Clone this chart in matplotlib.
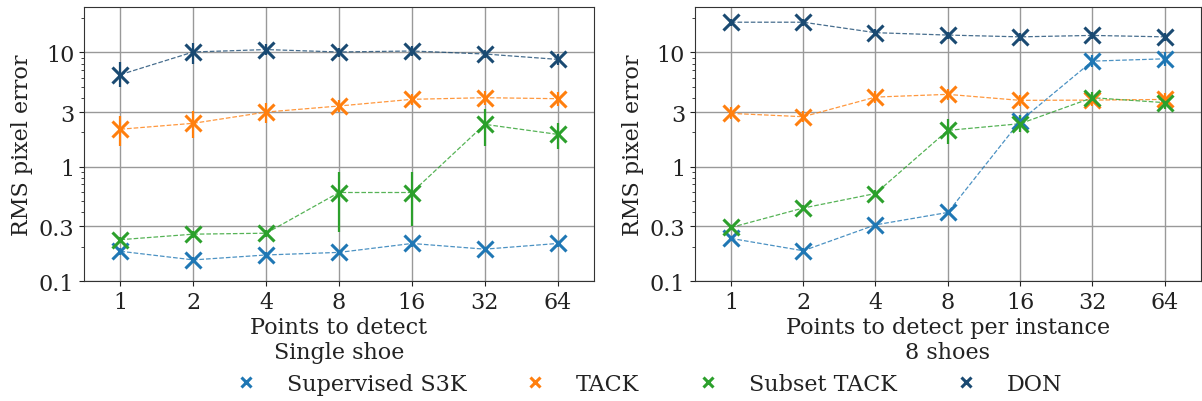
import matplotlib
matplotlib.use("Agg")
import matplotlib.pyplot as plt
import numpy as np

plt.rcParams['font.family'] = ['DejaVu Serif']
plt.rcParams['font.size'] = 16
plt.rcParams['text.color'] = '#222222'
plt.rcParams['axes.labelcolor'] = '#222222'
plt.rcParams['xtick.color'] = '#222222'
plt.rcParams['ytick.color'] = '#222222'

# Points to detect
points = [1, 2, 4, 8, 16, 32, 64]
methods = ["Supervised S3K", "TACK", "Subset TACK", "DON"]
colors = ["#1f77b4", "#ff7f0e", "#2ca02c", "#1a4a72"]

# Single shoe: mean, lower, upper
single_s3k = [0.182, 0.153, 0.169, 0.178, 0.213, 0.190, 0.213]
single_s3k_lo = [0.17, 0.145, 0.16, 0.17, 0.20, 0.18, 0.20]
single_s3k_hi = [0.195, 0.162, 0.178, 0.187, 0.226, 0.20, 0.226]
single_tack = [2.13, 2.40, 3.01, 3.40, 3.89, 4.02, 3.94]
single_tack_lo = [1.52, 1.80, 2.43, 3.0, 3.5, 3.5, 3.4]
single_tack_hi = [2.78, 3.07, 3.63, 3.8, 4.3, 4.6, 4.5]
single_subset = [0.23, 0.257, 0.262, 0.595, 0.595, 2.35, 1.92]
single_subset_lo = [0.215, 0.24, 0.245, 0.266, 0.304, 1.52, 1.42]
single_subset_hi = [0.245, 0.275, 0.28, 0.90, 0.90, 3.18, 2.43]
single_don = [6.4, 10.1, 10.6, 10.1, 10.3, 9.7, 8.7]
single_don_lo = [4.95, 7.9, 9.5, 9.2, 9.4, 8.9, 7.8]
single_don_hi = [8.2, 12.2, 11.8, 11.0, 11.3, 10.6, 9.6]

# 8 shoes
multi_s3k = [0.236, 0.184, 0.31, 0.398, 2.51, 8.4, 8.8]
multi_s3k_lo = [0.225, 0.175, 0.295, 0.38, 2.2, 7.4, 7.6]
multi_s3k_hi = [0.248, 0.193, 0.325, 0.415, 2.85, 9.5, 10.0]
multi_tack = [2.93, 2.74, 4.07, 4.30, 3.81, 3.83, 3.88]
multi_tack_lo = [2.6, 2.45, 3.6, 3.8, 3.4, 3.4, 3.4]
multi_tack_hi = [3.3, 3.1, 4.6, 4.8, 4.25, 4.3, 4.4]
multi_subset = [0.294, 0.435, 0.583, 2.08, 2.38, 4.02, 3.64]
multi_subset_lo = [0.28, 0.41, 0.55, 1.57, 2.0, 3.6, 3.2]
multi_subset_hi = [0.31, 0.46, 0.62, 2.6, 2.8, 4.5, 4.1]
multi_don = [18.4, 18.4, 14.9, 14.2, 13.7, 14.1, 13.7]
multi_don_lo = [17.0, 17.0, 13.8, 13.2, 12.7, 13.1, 12.7]
multi_don_hi = [19.8, 19.8, 16.0, 15.2, 14.7, 15.1, 14.7]

single = [(single_s3k, single_s3k_lo, single_s3k_hi),
          (single_tack, single_tack_lo, single_tack_hi),
          (single_subset, single_subset_lo, single_subset_hi),
          (single_don, single_don_lo, single_don_hi)]
multi = [(multi_s3k, multi_s3k_lo, multi_s3k_hi),
         (multi_tack, multi_tack_lo, multi_tack_hi),
         (multi_subset, multi_subset_lo, multi_subset_hi),
         (multi_don, multi_don_lo, multi_don_hi)]

fig = plt.figure(figsize=(12.02, 4.02), dpi=100)
ax1 = fig.add_axes([0.0699, 0.2985, 0.4243, 0.6816])
ax2 = fig.add_axes([0.578, 0.2985, 0.421, 0.6816])

xpos = np.arange(len(points))
yticks = [0.1, 0.3, 1, 3, 10]

for ax, data, xlabel in [(ax1, single, "Points to detect\nSingle shoe"),
                         (ax2, multi, "Points to detect per instance\n8 shoes")]:
    for (m, lo, hi), c, name in zip(data, colors, methods):
        m = np.array(m)
        err = [m - np.array(lo), np.array(hi) - m]
        ax.errorbar(xpos, m, yerr=err, color=c, ecolor=c, elinewidth=1.6,
                    capsize=0, linestyle="none", zorder=3)
        ax.plot(xpos, m, color=c, linestyle="--", linewidth=0.9, alpha=0.8, zorder=3)
        ax.plot(xpos, m, color=c, marker="x", markersize=12, markeredgewidth=2.2,
                linestyle="none", label=name, zorder=4)
    ax.set_yscale("log")
    ax.set_ylim(0.1, 25)
    ax.set_xlim(-0.5, len(points) - 0.5)
    ax.set_xticks(xpos)
    ax.set_xticklabels([str(p) for p in points])
    ax.set_yticks(yticks)
    ax.set_yticklabels(["0.1", "0.3", "1", "3", "10"])
    ax.grid(True, which="major", color="#999999", linewidth=1)
    ax.set_axisbelow(True)
    ax.set_xlabel(xlabel, linespacing=1.2, labelpad=2)
    ax.set_ylabel("RMS pixel error")
    for s in ax.spines.values():
        s.set_color("#333333")

handles, labels = ax1.get_legend_handles_labels()
fig.legend(handles, labels, loc="lower center", ncol=4, frameon=False,
           bbox_to_anchor=(0.535, -0.035), columnspacing=2.1, markerscale=0.65,
           handletextpad=0.85)

fig.savefig("out.png", dpi=100)
